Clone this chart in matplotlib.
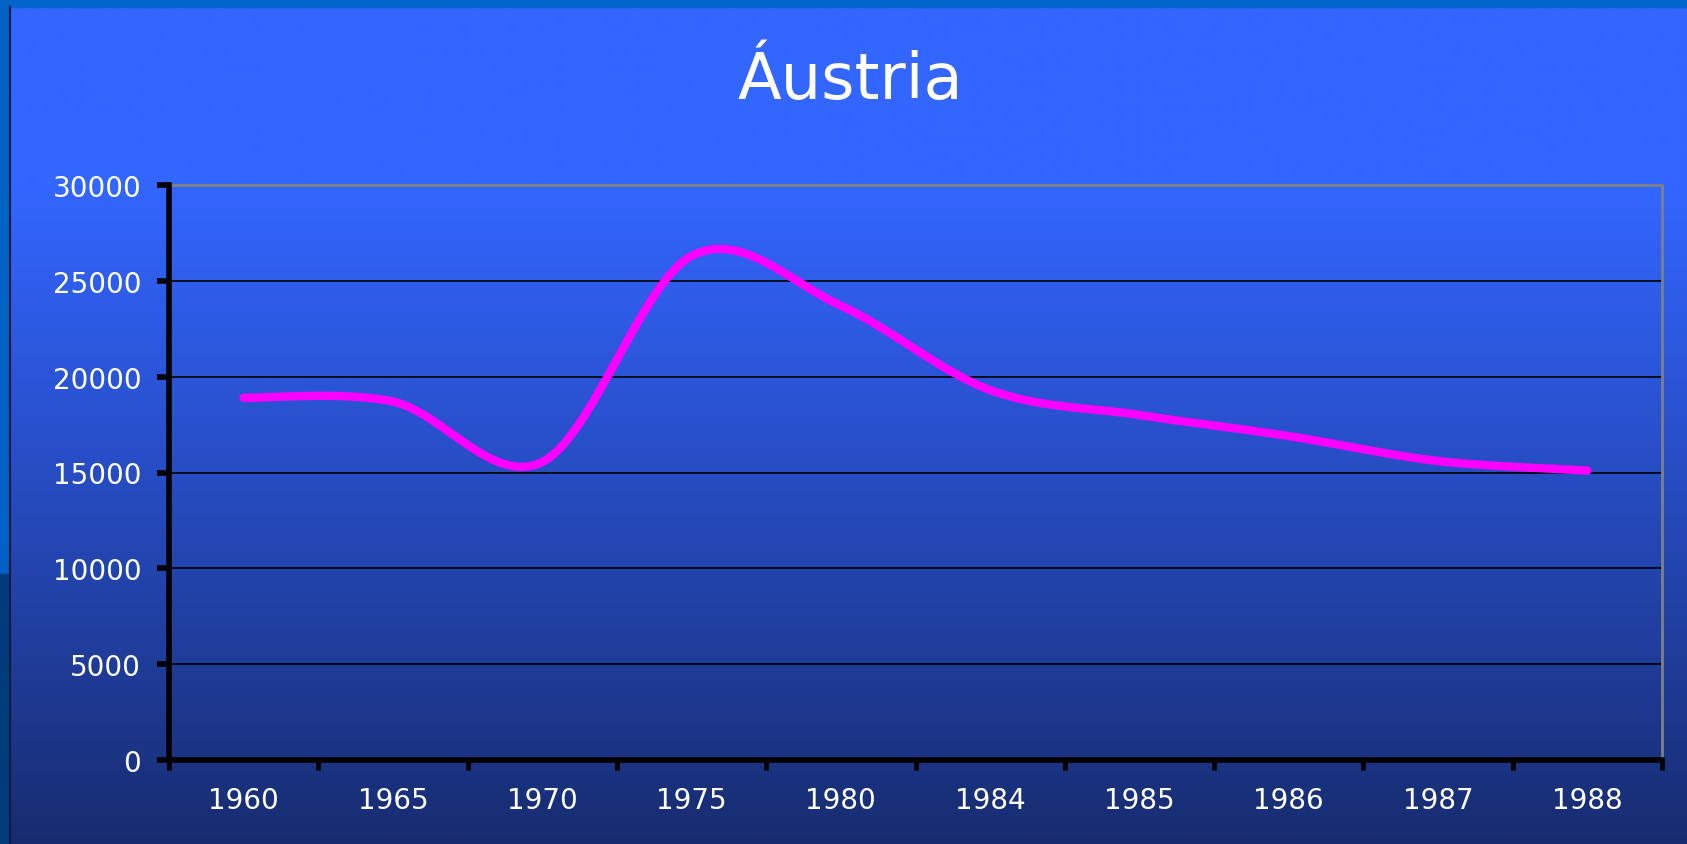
import numpy as np
import matplotlib.pyplot as plt
from matplotlib.path import Path
from matplotlib.patches import PathPatch, Rectangle
from matplotlib.colors import LinearSegmentedColormap

# dados
anos = ['1960', '1965', '1970', '1975', '1980', '1984', '1985', '1986', '1987', '1988']
valores = [18900, 18700, 15550, 26300, 23700, 19300, 18000, 16900, 15600, 15100]
yticks = [0, 5000, 10000, 15000, 20000, 25000, 30000]
titulo = 'Áustria'

W, H = 1687, 845
fig = plt.figure(figsize=(W / 100, H / 100), dpi=100)

# fundo em degradê
bg = fig.add_axes([0, 0, 1, 1])
bg.set_axis_off()
cmap = LinearSegmentedColormap.from_list('fundo', [(0, '#172c70'), (0.55, '#2b55d8'), (0.78, '#3366ff'), (1, '#3366ff')])
grad = np.linspace(0, 1, 400).reshape(-1, 1)
bg.imshow(grad, aspect='auto', cmap=cmap, origin='lower', extent=[0, 1, 0, 1])
bg.set_xlim(0, 1)
bg.set_ylim(0, 1)
# faixas do slide
bg.add_patch(Rectangle((0, 1 - 8 / H), 1, 8 / H, color='#0066cc', zorder=3))
bg.add_patch(Rectangle((0, 0.32), 9 / W, 0.68, color='#0062c4', zorder=3))
bg.add_patch(Rectangle((0, 0), 9 / W, 0.32, color='#003c7c', zorder=3))
bg.plot([9.5 / W, 9.5 / W], [0, 1 - 8 / H], color='#101a40', lw=1.5, zorder=4)

fig.text(850 / W, 1 - 99 / H, titulo, color='white', fontsize=46, ha='center', va='baseline')

ax = fig.add_axes([169 / W, 1 - 761 / H, (1662 - 169) / W, (761 - 186) / H])
ax.patch.set_alpha(0)

# linha suavizada (bezier tipo Catmull-Rom)
x = np.arange(len(valores), dtype=float)
y = np.array(valores, dtype=float)
pts = np.column_stack([x, y])
ext = np.vstack([pts[0], pts, pts[-1]])
verts = [tuple(pts[0])]
codes = [Path.MOVETO]
for i in range(len(pts) - 1):
    p0, p1, p2, p3 = ext[i], ext[i + 1], ext[i + 2], ext[i + 3]
    c1 = p1 + (p2 - p0) / 6
    c2 = p2 - (p3 - p1) / 6
    verts += [tuple(c1), tuple(c2), tuple(p2)]
    codes += [Path.CURVE4] * 3
ax.add_patch(PathPatch(Path(verts, codes), fill=False, edgecolor='#ff00ff', lw=6, capstyle='round', joinstyle='round', zorder=5))

ax.set_xlim(-0.5, len(anos) - 0.5)
ax.set_ylim(0, 30000)

for v in yticks[1:-1]:
    ax.axhline(v, color='black', lw=1.2, zorder=2)

for s in ['top', 'right']:
    ax.spines[s].set_color('#808080')
    ax.spines[s].set_linewidth(2)
for s in ['left', 'bottom']:
    ax.spines[s].set_color('black')
    ax.spines[s].set_linewidth(4)
    ax.spines[s].set_zorder(6)

ax.set_yticks(yticks)
ax.set_yticklabels([str(v) for v in yticks])
ax.set_xticks(np.arange(-0.5, len(anos), 1))
ax.set_xticklabels([])
ax.set_xticks(x, minor=True)
ax.set_xticklabels(anos, minor=True)

ax.tick_params(axis='y', direction='out', length=9, width=4, color='black', pad=11,
               labelsize=20, labelcolor='white')
ax.tick_params(axis='x', which='major', direction='out', length=7, width=3.5, color='black')
ax.tick_params(axis='x', which='minor', length=0, pad=19, labelsize=20, labelcolor='white')

fig.savefig('out.png', dpi=100)
